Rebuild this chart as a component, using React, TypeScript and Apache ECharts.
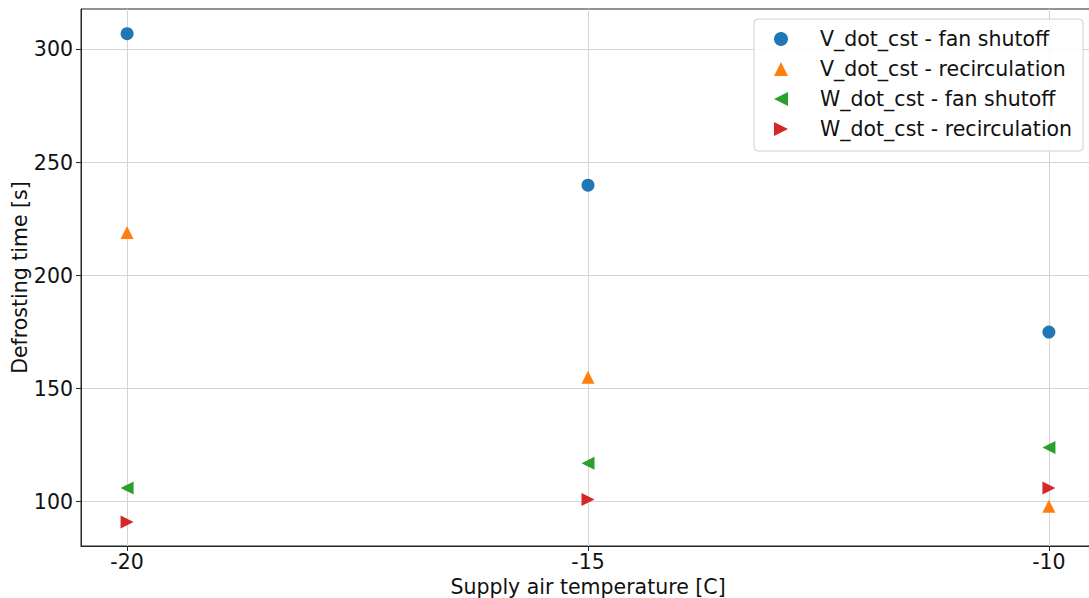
import React, { useEffect, useRef } from "react";
import * as echarts from "echarts";

const temperatures = [-20, -15, -10];
const vFanShutoff = [307, 240, 175];
const vRecirculation = [219, 155, 98];
const wFanShutoff = [106, 117, 124];
const wRecirculation = [91, 101, 106];
const xTicks = [-20, -15, -10];
const yTicks = [100, 150, 200, 250, 300];

const seriesNames = [
  "V_dot_cst - fan shutoff",
  "V_dot_cst - recirculation",
  "W_dot_cst - fan shutoff",
  "W_dot_cst - recirculation",
];
const colors = ["#1f77b4", "#ff7f0e", "#2ca02c", "#d62728"];
const LEFT_TRI = "path://M0,5L10,0L10,10Z";
const RIGHT_TRI = "path://M10,5L0,0L0,10Z";
const symbols = ["circle", "triangle", LEFT_TRI, RIGHT_TRI];
const values = [vFanShutoff, vRecirculation, wFanShutoff, wRecirculation];

const FONT = "DejaVu Sans";
const FS = 20.5;

export default function App() {
  const ref = useRef<HTMLDivElement>(null);
  useEffect(() => {
    if (!ref.current) return;
    const chart = echarts.init(ref.current, null, { renderer: "svg" });
    chart.setOption({
      animation: false,
      textStyle: { fontFamily: FONT },
      grid: {
        left: 81,
        top: 9,
        width: 1014,
        height: 537,
        outerBoundsMode: "none",
        containLabel: false,
        show: true,
        borderColor: "#262626",
        borderWidth: 1,
        backgroundColor: "transparent",
      },
      legend: {
        orient: "vertical",
        left: 754,
        top: 19,
        padding: [8, 11, 10, 20],
        itemWidth: 14,
        itemHeight: 14,
        itemGap: 6,
        backgroundColor: "rgba(255,255,255,0.85)",
        borderColor: "#d0d0d0",
        borderWidth: 1,
        borderRadius: 4,
        textStyle: {
          fontFamily: FONT,
          fontSize: FS,
          color: "#111",
          lineHeight: 24,
          padding: [0, 0, 0, 27],
        },
        data: seriesNames.map((n, i) => ({ name: n, icon: symbols[i] })),
      },
      xAxis: {
        type: "value",
        min: -20.5,
        max: -9.5,
        name: "Supply air temperature [C]",
        nameLocation: "middle",
        nameGap: 31,
        nameMoveOverlap: false,
        nameTextStyle: { fontFamily: FONT, fontSize: FS, color: "#111", lineHeight: 20 },
        axisLine: { show: true, lineStyle: { color: "#262626" } },
        axisTick: {
          show: true,
          length: 5,
          customValues: xTicks,
          lineStyle: { color: "#262626" },
        },
        axisLabel: {
          customValues: xTicks,
          margin: 7,
          lineHeight: 18,
          fontFamily: FONT,
          fontSize: FS,
          color: "#111",
        },
        splitLine: { show: true, lineStyle: { color: "#d4d4d4", width: 1 } },
      },
      yAxis: {
        type: "value",
        min: 80.4,
        max: 317.9,
        name: "Defrosting time [s]",
        nameLocation: "middle",
        nameGap: 51,
        nameMoveOverlap: false,
        nameTextStyle: { fontFamily: FONT, fontSize: FS, color: "#111" },
        axisLine: { show: true, lineStyle: { color: "#262626" } },
        axisTick: {
          show: true,
          length: 5,
          customValues: yTicks,
          lineStyle: { color: "#262626" },
        },
        axisLabel: {
          customValues: yTicks,
          margin: 8,
          fontFamily: FONT,
          fontSize: FS,
          color: "#111",
        },
        splitLine: { show: true, lineStyle: { color: "#d4d4d4", width: 1 } },
      },
      series: seriesNames.map((name, i) => ({
        name,
        type: "scatter",
        symbol: symbols[i],
        symbolSize: 13,
        itemStyle: { color: colors[i], opacity: 1 },
        data: temperatures.map((t, j) => [t, values[i][j]]),
      })),
    });
    return () => chart.dispose();
  }, []);
  return <div ref={ref} style={{ width: 1089, height: 598, position: "absolute", left: 0, top: 0 }} />;
}
